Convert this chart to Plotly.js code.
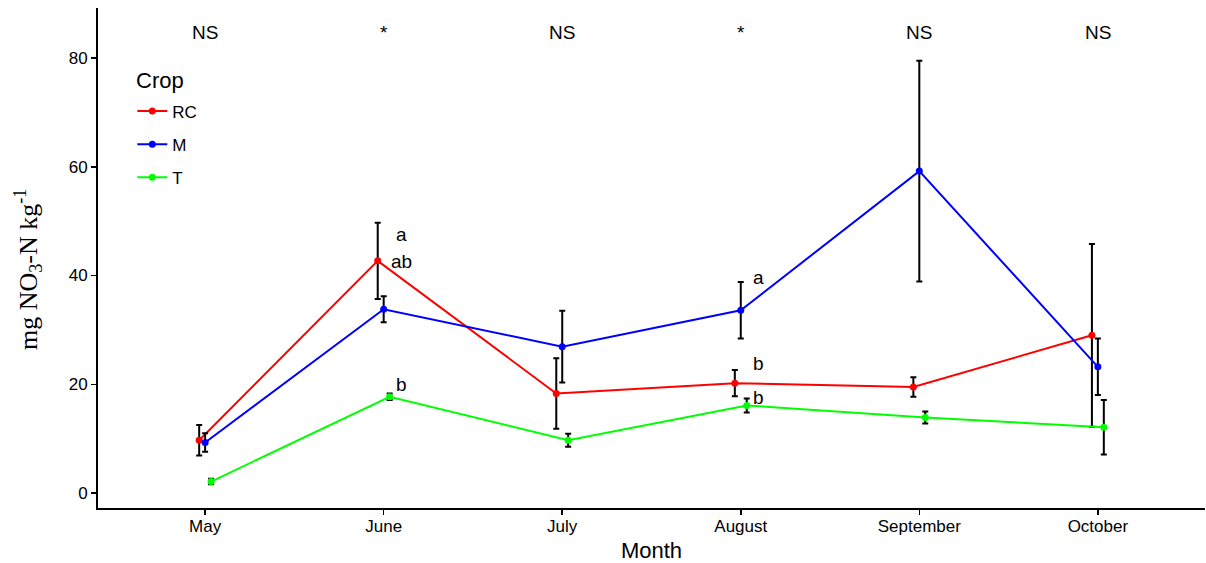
<!DOCTYPE html>
<html>
<head>
<meta charset="utf-8">
<script src="https://cdn.plot.ly/plotly-3.0.1.min.js"></script>
<style>html,body{margin:0;padding:0;background:#fff;}#chart{width:1206px;height:563px;}</style>
</head>
<body>
<div id="chart"></div>
<script>
// ---- data ----
const months = ['May', 'June', 'July', 'August', 'September', 'October'];
const crops = ['RC', 'M', 'T'];
const rcMean = [9.7, 42.7, 18.3, 20.2, 19.5, 29.0];
const rcSe   = [2.8, 7.0, 6.5, 2.4, 1.8, 16.8];
const mMean  = [9.3, 33.8, 26.9, 33.6, 59.2, 23.2];
const mSe    = [1.7, 2.4, 6.6, 5.2, 20.3, 5.2];
const tMean  = [2.1, 17.7, 9.7, 16.1, 13.9, 12.1];
const tSe    = [0.5, 0.6, 1.2, 1.3, 1.1, 5.0];
const sigLabels = ['NS', '*', 'NS', '*', 'NS', 'NS'];
const letterMonth = ['June', 'June', 'June', 'August', 'August', 'August'];
const letterY     = [47.6, 42.6, 19.9, 39.7, 23.9, 17.6];
const letterText  = ['a', 'ab', 'b', 'a', 'b', 'b'];
const legendTitle = 'Crop';
const yTitle = 'mg NO<sub>3</sub>-N kg<sup>-1</sup>';

// ---- styling ----
const colors = {RC: '#ff0000', M: '#0000ff', T: '#00ff00'};
const dodge = {RC: -1 / 30, M: 0, T: 1 / 30};
const font = 'Liberation Sans, Arial, sans-serif';

function trace(name, mean, se) {
  return {
    type: 'scatter', mode: 'lines+markers', name: name, legendgroup: name,
    x: months.map((m, i) => i + dodge[name]), y: mean,
    line: {color: colors[name], width: 2},
    marker: {color: colors[name], size: 7},
    error_y: {type: 'data', array: se, visible: true, color: '#000000', thickness: 2, width: 3}
  };
}
const data = [trace('RC', rcMean, rcSe), trace('M', mMean, mSe), trace('T', tMean, tSe)];

const annotations = [];
sigLabels.forEach((s, i) => annotations.push({
  x: i, y: 84.7, xref: 'x', yref: 'y', text: s, showarrow: false,
  font: {family: font, size: 19, color: '#000'}, xanchor: 'center', yanchor: 'middle'
}));
letterText.forEach((t, i) => annotations.push({
  x: months.indexOf(letterMonth[i]) + 0.1, y: letterY[i], xref: 'x', yref: 'y', text: t, showarrow: false,
  font: {family: font, size: 19, color: '#000'}, xanchor: 'center', yanchor: 'middle'
}));
annotations.push({
  x: 0.0325, y: 0.856, xref: 'paper', yref: 'paper', text: legendTitle, showarrow: false,
  font: {family: font, size: 22, color: '#000'}, xanchor: 'left', yanchor: 'middle'
});
annotations.push({
  x: -0.0632, y: 0.476, xref: 'paper', yref: 'paper', text: yTitle, showarrow: false, textangle: -90,
  font: {family: 'Liberation Serif, Times New Roman, serif', size: 26, color: '#000'}, xanchor: 'center', yanchor: 'middle'
});

const layout = {
  width: 1206, height: 563,
  margin: {l: 98, r: 1, t: 8, b: 55},
  paper_bgcolor: '#fff', plot_bgcolor: '#fff',
  font: {family: font, color: '#000'},
  showlegend: true,
  legend: {
    x: 0.031, y: 0.829, xanchor: 'left', yanchor: 'top',
    traceorder: 'grouped', tracegroupgap: 8,
    font: {family: font, size: 17, color: '#000'},
    bgcolor: 'rgba(0,0,0,0)'
  },
  xaxis: {
    range: [-0.6, 5.6], tickmode: 'array', tickvals: months.map((m, i) => i), ticktext: months,
    showgrid: false, zeroline: false, showline: true, linecolor: '#000', linewidth: 2,
    ticks: 'outside', ticklen: 5, tickwidth: 1.5, tickcolor: '#000', ticklabelstandoff: -3,
    tickfont: {family: font, size: 17, color: '#000'},
    title: {text: 'Month', font: {family: font, size: 22, color: '#000'}, standoff: 9},
    automargin: false
  },
  yaxis: {
    range: [-2.76, 89.2], tickvals: [0, 20, 40, 60, 80],
    showgrid: false, zeroline: false, showline: true, linecolor: '#000', linewidth: 2,
    ticks: 'outside', ticklen: 5, tickwidth: 1.5, tickcolor: '#000',
    tickfont: {family: font, size: 17, color: '#000'},
    automargin: false
  },
  annotations: annotations
};

Plotly.newPlot('chart', data, layout, {displayModeBar: false, staticPlot: true});
</script>
</body>
</html>
